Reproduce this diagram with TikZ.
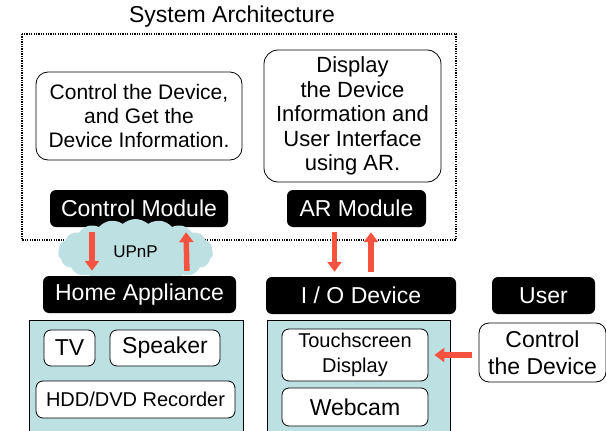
\documentclass[tikz,border=0pt]{standalone}
\usepackage{fontspec}
\setmainfont{Liberation Sans}
\usetikzlibrary{arrows.meta}
\usetikzlibrary{positioning}
\usetikzlibrary{shapes.symbols}
\definecolor{panelteal}{HTML}{BDE0E3}
\definecolor{arrowred}{HTML}{F5533F}
\tikzset{modbox/.style = {fill, rounded corners = 6, text = white, inner sep = 0,
    minimum height = 37, font = \fontsize{23}{27}\selectfont}}
\tikzset{rbox/.style = {draw, fill = white, rounded corners = 7, inner sep = 0,
    line width = 0.8, align = center, font = \fontsize{23}{27}\selectfont}}
\tikzset{panel/.style = {draw, fill = panelteal, line width = 0.8}}
\tikzset{redarr/.style = {draw = arrowred, line width = 5.5,
    -{Triangle[width = 14, length = 10]}, shorten < = 5, shorten > = 5}}

\begin{document}
\begin{tikzpicture}[x = 1pt, y = -1pt]
    \useasboundingbox (0, 0) rectangle (606, 431);

    \node (title) at (232, 17) {\fontsize{23}{27}\selectfont System Architecture};
    \draw[dash pattern = on 1.3 off 1.1, line width = 1.7] (22, 34) rectangle (456, 240);

    \node[rbox, rounded corners = 12, minimum width = 206, minimum height = 88,
        font = \fontsize{21}{24}\selectfont] (ctrldesc) at (139, 116)
        {Control the Device,\\and Get the\\Device Information.};
    \node[rbox, rounded corners = 14, minimum width = 177, minimum height = 132,
        font = \fontsize{22}{24.5}\selectfont] (ardesc) at (352.5, 116)
        {Display\\the Device\\Information and\\User Interface\\using AR.};

    \node[modbox, minimum width = 178] (ctrl) at (139, 208.5) {Control Module};
    \node[modbox, minimum width = 139] (ar) at (356.5, 208.5) {AR Module};

    \node[cloud, cloud puffs = 19, cloud puff arc = 85, fill = panelteal,
        minimum width = 155, minimum height = 40, inner sep = 0,
        font = \fontsize{17}{20}\selectfont] (upnp) at (135.5, 252) {UPnP};

    \node[modbox, minimum width = 193] (home) at (139.5, 294.5) {Home Appliance};
    \node[modbox, minimum width = 190] (io) at (361, 295.5) {I / O Device};
    \node[modbox, minimum width = 103] (user) at (543.5, 295.5) {User};

    \draw[panel] (29, 445) -- (29, 320) -- (243, 320) -- (243, 445);
    \draw[panel] (267, 445) -- (267, 320) -- (450, 320) -- (450, 445);

    \node[rbox, minimum width = 51, minimum height = 36] (tv) at (69.5, 348) {TV};
    \node[rbox, minimum width = 110, minimum height = 36] (speaker) at (165, 348) {Speaker};
    \node[rbox, minimum width = 199, minimum height = 37,
        font = \fontsize{20}{24}\selectfont] (hdd) at (135.5, 399.5) {HDD/DVD Recorder};

    \node[rbox, minimum width = 146, minimum height = 52,
        font = \fontsize{20}{25}\selectfont] (touch) at (355, 355) {Touchscreen\\Display};
    \node[rbox, minimum width = 146, minimum height = 38] (webcam) at (355, 407) {Webcam};

    \node[rbox, rounded corners = 10, minimum width = 127, minimum height = 59]
        (usrctrl) at (542.5, 352.5) {Control\\the Device};

    \draw[redarr] ([xshift = -47]ctrl.south) -- ([xshift = -47.5]home.north);
    \draw[redarr] ([xshift = 47.5]home.north) -- ([xshift = 47]ctrl.south);
    \draw[redarr] ([xshift = -22]ar.south) -- ([xshift = -26.5]io.north);
    \draw[redarr] ([xshift = 10]io.north) -- ([xshift = 14.5]ar.south);
    \draw[redarr, shorten < = 7, shorten > = 6] (touch.east -| usrctrl.west) -- (touch.east);
\end{tikzpicture}
\end{document}
